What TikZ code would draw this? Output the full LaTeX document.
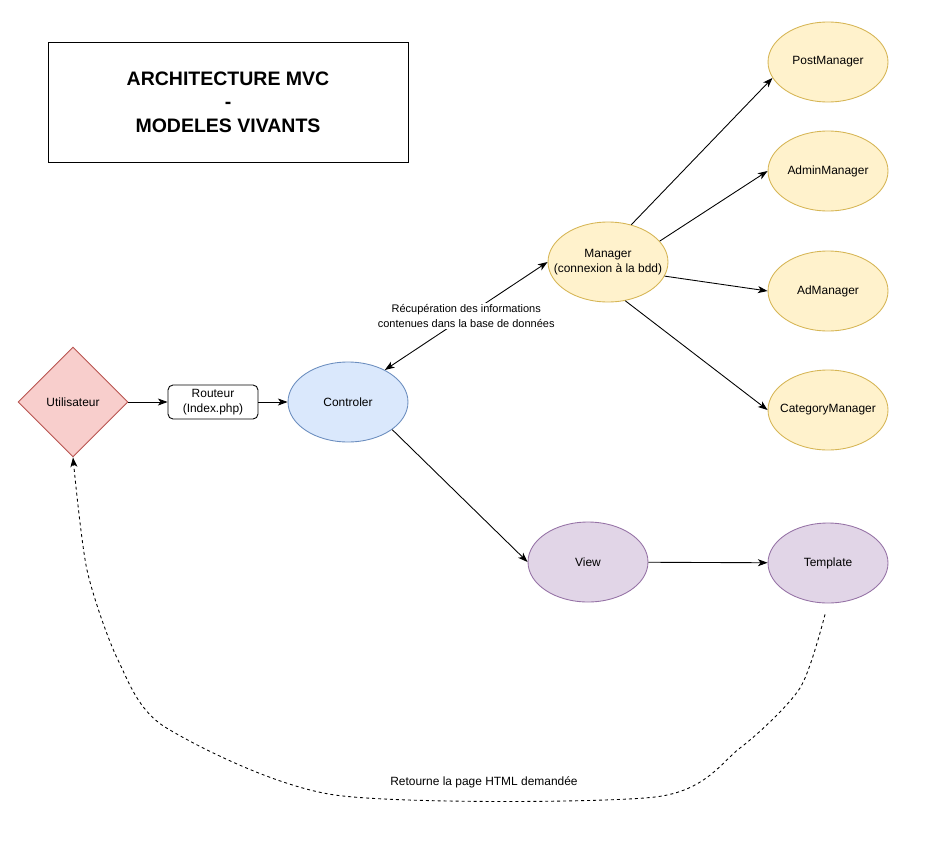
\documentclass[tikz,border=0pt]{standalone}
\usepackage{fontspec}
\setmainfont{Liberation Sans}
\usetikzlibrary{positioning,shapes.geometric,arrows.meta}
\definecolor{userfill}{HTML}{F8CECC}
\definecolor{userline}{HTML}{B85450}
\definecolor{ctrlfill}{HTML}{DAE8FC}
\definecolor{ctrlline}{HTML}{6C8EBF}
\definecolor{mgrfill}{HTML}{FFF2CC}
\definecolor{mgrline}{HTML}{D6B656}
\definecolor{viewfill}{HTML}{E1D5E7}
\definecolor{viewline}{HTML}{9673A6}

\begin{document}
\begin{tikzpicture}[x=0.02cm, y=-0.02cm]
\tikzset{
    every node/.style = {align=center, inner sep=1pt, font=\fontsize{6.8}{8.4}\selectfont},
    every path/.style = {>={Stealth[length=5.5pt, width=4pt, inset=1.5pt]}, line width=.5pt},
    titlebox/.style = {draw, rectangle, minimum width=7.2cm, minimum height=2.4cm,
                       font=\bfseries\fontsize{11.1}{13.3}\selectfont},
    userbox/.style = {draw=userline, fill=userfill, diamond, minimum width=2.2cm,
                      minimum height=2.2cm, inner sep=0pt},
    routerbox/.style = {draw, rectangle, rounded corners=.1cm, minimum width=1.8cm,
                        minimum height=.68cm},
    blob/.style = {ellipse, minimum width=2.4cm, minimum height=1.6cm,
                   inner xsep=-.5cm, inner ysep=0pt},
    ctrlblob/.style = {blob, draw=ctrlline, fill=ctrlfill},
    mgrblob/.style = {blob, draw=mgrline, fill=mgrfill},
    viewblob/.style = {blob, draw=viewline, fill=viewfill},
    small/.style = {fill=white, font=\fontsize{6.26}{8.4}\selectfont},
    back/.style = {dash pattern=on 1.7pt off 1.7pt}
}
\useasboundingbox (0,0) rectangle (936,845);

% -------------------------------------------------------
\node[titlebox] (title) at (228,102) {
    ARCHITECTURE MVC \\
    - \\
    MODELES VIVANTS
};

\node[userbox] (user) at (73,402) {Utilisateur};

\node[routerbox] (router) at (213,402) {
    Routeur \\
    (Index.php)
};

\node[ctrlblob] (ctrl) at (348,402) {Controler};

\node[mgrblob] (manager) at (608,262) {
    Manager \\
    (connexion à la bdd)
};

\node[mgrblob] (post) at (828,62) {PostManager};
\node[mgrblob] (admin) at (828,171) {AdminManager};
\node[mgrblob] (ad) at (828,291) {AdManager};
\node[mgrblob] (category) at (828,410) {CategoryManager};

\node[viewblob] (view) at (588,562) {View};
\node[viewblob] (template) at (828,563) {Template};

% points of the way back to the user
\coordinate[below=.22cm of template.south, xshift=-.06cm] (out);
\coordinate (r1) at (800,688);
\coordinate (r2) at (740,748);
\coordinate (r3) at (655,797);
\coordinate (r4) at (335,795);
\coordinate (r5) at (165,727);
\coordinate (r6) at (118,660);
\coordinate (r7) at (87,570);

% -------------------------------------------------------
\path[->] (user) edge (router);
\path[->] (router) edge (ctrl);

\path[<->] (ctrl.41) edge node[small] {
    Récupération des informations \\
    contenues dans la base de données
} (manager.west);

\path[->] (manager.58) edge (post.196);
\path[->] (manager.22) edge (admin.west);
\path[->] (manager.-14) edge (ad.west);
\path[->] (manager.-66) edge (category.west);

\path[->] (ctrl.-32) edge (view.west);
\path[->] (view) edge (template);

\draw[back, ->] plot[smooth, tension=.45] coordinates
    {(out) (r1) (r2) (r3) (r4) (r5) (r6) (r7) (user.south)};
\node (backlabel) at (484,782) {Retourne la page HTML demandée};
\end{tikzpicture}
\end{document}
